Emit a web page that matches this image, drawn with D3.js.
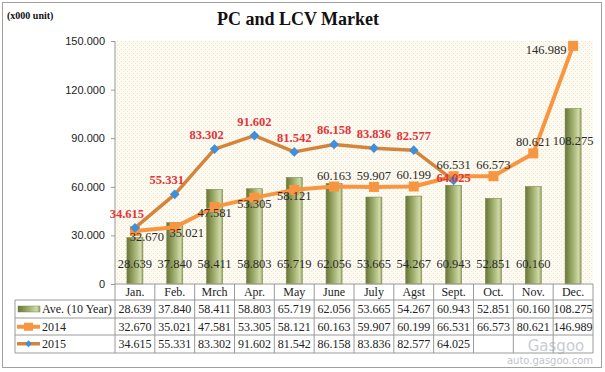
<!DOCTYPE html>
<html>
<head>
    <title>PC and LCV Market</title>
    <script src="https://d3js.org/d3.v7.min.js"></script>
    <style>
        body { margin: 0; background: #fff; }
        svg { font-family: "Liberation Serif", "DejaVu Serif", serif; }
        .tick text { font-size: 11px; fill: #222; }
        .cell { font-size: 12px; fill: #222; text-anchor: middle; }
    </style>
</head>
<body>
    <div id="chart"></div>
    <script>
        var months = ["Jan.", "Feb.", "Mrch", "Apr.", "May", "June", "July", "Agst", "Sept.", "Oct.", "Nov.", "Dec."];
        var ave10 = [28.639, 37.840, 58.411, 58.803, 65.719, 62.056, 53.665, 54.267, 60.943, 52.851, 60.160, 108.275];
        var y2014 = [32.670, 35.021, 47.581, 53.305, 58.121, 60.163, 59.907, 60.199, 66.531, 66.573, 80.621, 146.989];
        var y2015 = [34.615, 55.331, 83.302, 91.602, 81.542, 86.158, 83.836, 82.577, 64.025];
        var yTicks = [0, 30, 60, 90, 120, 150];
        var seriesNames = ["Ave. (10 Year)", "2014", "2015"];

        var width = 605, height = 372;
        var plotL = 115, plotR = 593, plotT = 41, plotB = 284;

        var svg = d3.select("#chart").append("svg")
            .attr("width", width)
            .attr("height", height);

        var defs = svg.append("defs");
        var pat = defs.append("pattern")
            .attr("id", "dots")
            .attr("width", 4).attr("height", 4)
            .attr("patternUnits", "userSpaceOnUse");
        pat.append("rect").attr("width", 4).attr("height", 4).attr("fill", "#fdfaf1");
        pat.append("rect").attr("x", 1).attr("y", 1).attr("width", 1).attr("height", 1).attr("fill", "#ece2c8");
        pat.append("rect").attr("x", 3).attr("y", 3).attr("width", 1).attr("height", 1).attr("fill", "#f1e9d4");

        var grad = defs.append("linearGradient").attr("id", "barGrad")
            .attr("x1", "0%").attr("x2", "100%").attr("y1", "0%").attr("y2", "0%");
        grad.append("stop").attr("offset", "0%").attr("stop-color", "#687536");
        grad.append("stop").attr("offset", "45%").attr("stop-color", "#9dab6b");
        grad.append("stop").attr("offset", "85%").attr("stop-color", "#cfdaa8");
        grad.append("stop").attr("offset", "100%").attr("stop-color", "#95a262");

        // outer frame
        svg.append("rect")
            .attr("x", 2.5).attr("y", 2.5)
            .attr("width", 599).attr("height", 365)
            .attr("fill", "#fff")
            .attr("stroke", "#a0a0a0");

        var x = d3.scaleBand().domain(months).range([plotL, plotR]).padding(0);
        var y = d3.scaleLinear().domain([0, 150]).range([plotB, plotT]);

        // plot background
        svg.append("rect")
            .attr("x", plotL).attr("y", plotT)
            .attr("width", plotR - plotL).attr("height", plotB - plotT)
            .attr("fill", "url(#dots)");

        // title and unit
        svg.append("text")
            .attr("x", 298).attr("y", 25)
            .attr("text-anchor", "middle")
            .attr("font-weight", "bold")
            .attr("font-size", 18)
            .attr("fill", "#111")
            .text("PC and LCV Market");

        svg.append("text")
            .attr("x", 7).attr("y", 19)
            .attr("font-weight", "bold")
            .attr("font-size", 10)
            .attr("fill", "#111")
            .text("(x000 unit)");

        // y axis
        var yAxis = d3.axisLeft(y)
            .tickValues(yTicks)
            .tickSize(4)
            .tickPadding(6)
            .tickFormat(function(d) { return d === 0 ? "0" : d3.format(".3f")(d); });

        var ya = svg.append("g")
            .attr("transform", "translate(" + plotL + ",0)")
            .call(yAxis);
        ya.selectAll("path, line").attr("stroke", "#999");
        ya.select(".domain").remove();
        ya.append("line").attr("x1", 0).attr("x2", 0).attr("y1", plotT).attr("y2", plotB).attr("stroke", "#999");

        // bars
        var barW = 16;
        var cx = function(d, i) { return x(months[i]) + x.bandwidth() / 2; };

        svg.selectAll(".bar")
            .data(ave10)
            .enter().append("rect")
            .attr("class", "bar")
            .attr("x", function(d, i) { return cx(d, i) - barW / 2; })
            .attr("y", function(d) { return y(d); })
            .attr("width", barW)
            .attr("height", function(d) { return y(0) - y(d); })
            .attr("fill", "url(#barGrad)")
            .attr("stroke", "#7d8a4a")
            .attr("stroke-width", 0.6);

        // 2014 line
        var line = d3.line()
            .x(function(d, i) { return cx(d, i); })
            .y(function(d) { return y(d); });

        svg.append("path")
            .datum(y2014)
            .attr("d", line)
            .attr("fill", "none")
            .attr("stroke", "#f79540")
            .attr("stroke-width", 4)
            .attr("stroke-linejoin", "round");

        svg.selectAll(".sq")
            .data(y2014)
            .enter().append("rect")
            .attr("x", function(d, i) { return cx(d, i) - 5; })
            .attr("y", function(d) { return y(d) - 5; })
            .attr("width", 10).attr("height", 10)
            .attr("fill", "#f79540");

        // 2015 line
        svg.append("path")
            .datum(y2015)
            .attr("d", line)
            .attr("fill", "none")
            .attr("stroke", "#d5843b")
            .attr("stroke-width", 3.5)
            .attr("stroke-linejoin", "round");

        svg.selectAll(".dia")
            .data(y2015)
            .enter().append("path")
            .attr("d", d3.symbol().type(d3.symbolDiamond2).size(60))
            .attr("transform", function(d, i) { return "translate(" + cx(d, i) + "," + y(d) + ")"; })
            .attr("fill", "#3f8fdb");

        var fmt = d3.format(".3f");

        // bar labels
        svg.selectAll(".blab")
            .data(ave10)
            .enter().append("text")
            .attr("x", cx)
            .attr("y", function(d) { return d > 100 ? y(d) + 36 : y(0) - 16; })
            .attr("text-anchor", "middle")
            .attr("font-size", 12.5)
            .attr("fill", "#2a2a2a")
            .text(fmt);

        // 2014 labels
        svg.selectAll(".lab14")
            .data(y2014)
            .enter().append("text")
            .attr("x", function(d, i) {
                if (i === 11) return cx(d, i) - 27;
                if (i < 2) return cx(d, i) + 12;
                return cx(d, i);
            })
            .attr("y", function(d, i) {
                if (i === 11) return y(d) + 8;
                if (i < 5) return y(d) + 10;
                return y(d) - 7;
            })
            .attr("text-anchor", "middle")
            .attr("font-size", 12.5)
            .attr("fill", "#2a2a2a")
            .text(fmt);

        // 2015 labels
        svg.selectAll(".lab15")
            .data(y2015)
            .enter().append("text")
            .attr("x", function(d, i) { return i < 3 ? cx(d, i) - 8 : cx(d, i); })
            .attr("y", function(d, i) { return i === 8 ? y(d) + 2 : y(d) - 10; })
            .attr("text-anchor", "middle")
            .attr("font-size", 12.5)
            .attr("font-weight", "bold")
            .attr("fill", "#e2353a")
            .text(fmt);

        // data table
        var rowTop = [300, 318, 335];
        var rowH = 17.5;
        var tableBottom = 353;
        var tbl = svg.append("g");
        var gridColor = "#9a9a9a";

        // watermark (behind table text)
        tbl.append("text")
            .attr("x", 556).attr("y", 351)
            .attr("text-anchor", "middle")
            .attr("font-family", "DejaVu Sans, sans-serif")
            .attr("font-size", 15)
            .attr("fill", "#c8ccd4")
            .text("Gasgoo");
        tbl.append("text")
            .attr("x", 550).attr("y", 364)
            .attr("text-anchor", "middle")
            .attr("font-family", "DejaVu Sans, sans-serif")
            .attr("font-size", 10)
            .attr("fill", "#bfc4cc")
            .text("auto.gasgoo.com");

        tbl.append("line").attr("x1", plotL).attr("x2", plotR).attr("y1", plotB).attr("y2", plotB).attr("stroke", gridColor);
        rowTop.concat([tableBottom]).forEach(function(ry) {
            tbl.append("line").attr("x1", 15).attr("x2", plotR).attr("y1", ry).attr("y2", ry).attr("stroke", gridColor);
        });
        tbl.append("line").attr("x1", 15).attr("x2", 15).attr("y1", rowTop[0]).attr("y2", tableBottom).attr("stroke", gridColor);
        months.forEach(function(m) {
            tbl.append("line").attr("x1", x(m)).attr("x2", x(m)).attr("y1", plotB).attr("y2", tableBottom).attr("stroke", gridColor);
        });
        tbl.append("line").attr("x1", plotR).attr("x2", plotR).attr("y1", plotB).attr("y2", tableBottom).attr("stroke", gridColor);

        months.forEach(function(m) {
            tbl.append("text").attr("class", "cell")
                .attr("x", x(m) + x.bandwidth() / 2).attr("y", 296)
                .text(m);
        });

        var rows = [ave10, y2014, y2015];
        rows.forEach(function(vals, r) {
            vals.forEach(function(v, i) {
                tbl.append("text").attr("class", "cell")
                    .attr("x", x(months[i]) + x.bandwidth() / 2)
                    .attr("y", rowTop[r] + 12.5)
                    .text(fmt(v));
            });
            tbl.append("text")
                .attr("x", 42).attr("y", rowTop[r] + 12.5)
                .attr("font-size", 12).attr("fill", "#222")
                .text(seriesNames[r]);
        });

        // legend keys
        tbl.append("rect").attr("x", 18).attr("y", rowTop[0] + 6).attr("width", 22).attr("height", 6)
            .attr("fill", "url(#barGrad)").attr("stroke", "#7d8a4a").attr("stroke-width", 0.5);
        var k2 = rowTop[1] + rowH / 2;
        tbl.append("line").attr("x1", 17).attr("x2", 40).attr("y1", k2).attr("y2", k2)
            .attr("stroke", "#f79540").attr("stroke-width", 4);
        tbl.append("rect").attr("x", 24).attr("y", k2 - 4).attr("width", 9).attr("height", 8).attr("fill", "#f79540");
        var k3 = rowTop[2] + rowH / 2;
        tbl.append("line").attr("x1", 17).attr("x2", 40).attr("y1", k3).attr("y2", k3)
            .attr("stroke", "#d5843b").attr("stroke-width", 3.5);
        tbl.append("path").attr("d", d3.symbol().type(d3.symbolDiamond2).size(30))
            .attr("transform", "translate(28.5," + k3 + ")").attr("fill", "#3f8fdb");
    </script>
</body>
</html>
